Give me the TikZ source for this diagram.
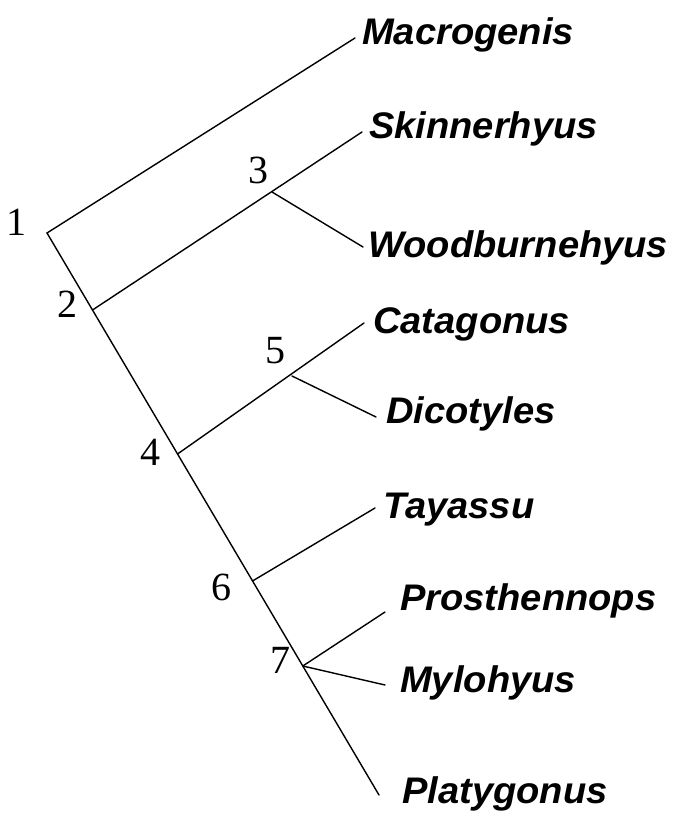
\documentclass[tikz,border=0pt]{standalone}
\usepackage{fontspec}
\setmainfont{Liberation Serif}
\newfontfamily\taxonfont[FakeStretch=1.03]{Liberation Sans}

\begin{document}
\begin{tikzpicture}[x=1pt, y=-1pt,
  taxon/.style={anchor=base west, inner sep=0pt,
    font=\taxonfont\bfseries\itshape\fontsize{37}{40}\selectfont},
  nodenum/.style={anchor=base, inner sep=0pt,
    font=\fontsize{40}{44}\selectfont},
  branch/.style={draw=black, line width=1.4pt, line cap=round},
]
\useasboundingbox (0,0) rectangle (676,824);

% branching points
\coordinate (n1) at (47, 233);
\coordinate (n2) at (92.5, 310);
\coordinate (n3) at (272, 192);
\coordinate (n4) at (177.5, 454);
\coordinate (n5) at (292, 376);
\coordinate (n6) at (252.5, 581);
\coordinate (n7) at (302.8, 666);

% tips of the branches
\coordinate (t_mac) at (355, 38);
\coordinate (t_ski) at (362, 132);
\coordinate (t_woo) at (363, 247);
\coordinate (t_cat) at (364, 323);
\coordinate (t_dic) at (376, 417);
\coordinate (t_tay) at (375, 508);
\coordinate (t_pro) at (385, 612);
\coordinate (t_myl) at (385, 685);
\coordinate (t_pla) at (379, 795);

\node[nodenum] (l1) at (16, 235) {1};
\node[nodenum] (l2) at (67, 317) {2};
\node[nodenum] (l3) at (258, 183) {3};
\node[nodenum] (l4) at (150, 465) {4};
\node[nodenum] (l5) at (275, 363) {5};
\node[nodenum] (l6) at (221, 600) {6};
\node[nodenum] (l7) at (280, 673) {7};

\node[taxon] (mac) at (362, 45) {Macrogenis};
\node[taxon] (ski) at (369, 139) {Skinnerhyus};
\node[taxon] (woo) at (368, 257) {Woodburnehyus};
\node[taxon] (cat) at (373, 333) {Catagonus};
\node[taxon] (dic) at (386, 423) {Dicotyles};
\node[taxon] (tay) at (383, 518) {Tayassu};
\node[taxon] (pro) at (400, 610) {Prosthennops};
\node[taxon] (myl) at (400, 692) {Mylohyus};
\node[taxon] (pla) at (402, 803) {Platygonus};

\draw[branch] (t_mac) -- (n1) -- (t_pla);
\draw[branch] (n2) -- (t_ski);
\draw[branch] (n3) -- (t_woo);
\draw[branch] (n4) -- (t_cat);
\draw[branch] (n5) -- (t_dic);
\draw[branch] (n6) -- (t_tay);
\draw[branch] (n7) -- (t_pro);
\draw[branch] (n7) -- (t_myl);

\end{tikzpicture}
\end{document}
